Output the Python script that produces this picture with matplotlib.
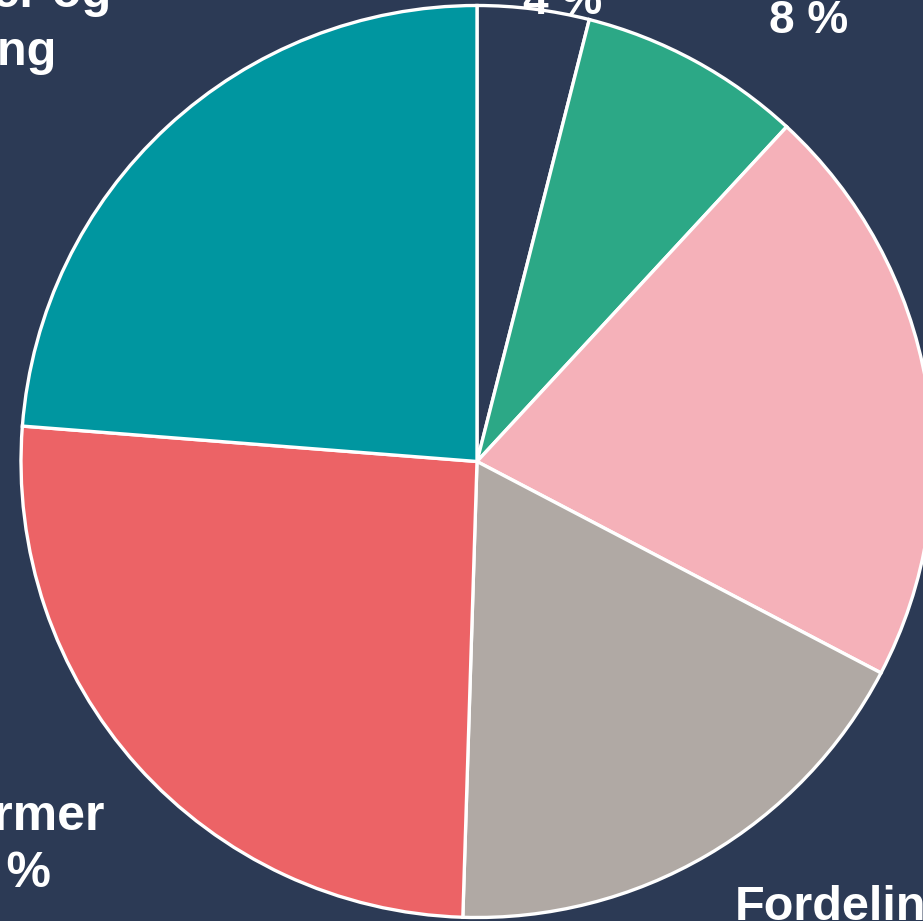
import matplotlib.pyplot as plt

# Andeler per post, med klokka fra toppen
kategorier = ["Annet", "Drift", "Investeringer", "Fordeling",
              "Reformer", "Konsulenter og\nrådgivning"]
andeler = [4, 8, 21, 18, 26, 24]
farger = ["#2c3a55", "#2ca886", "#f5b1b9", "#b0a9a4", "#ec6366", "#0096a0"]

bakgrunn = "#2c3a55"
W, H = 923, 921

fig = plt.figure(figsize=(W / 100, H / 100), dpi=100, facecolor=bakgrunn)
ax = fig.add_axes([0, 0, 1, 1])
ax.set_facecolor(bakgrunn)

ax.pie(andeler, colors=farger, startangle=90, counterclock=False,
       center=(477, H - 461.5), radius=456,
       wedgeprops=dict(edgecolor="white", linewidth=2.4))

ax.set_xlim(0, W)
ax.set_ylim(0, H)
ax.set_aspect("equal")
ax.axis("off")

etikett = dict(color="white", fontsize=35, fontweight="bold",
               family=["Liberation Sans", "DejaVu Sans"],
               ha="center", va="baseline", multialignment="center")


def tekst(i, x, y, forst=False, **kw):
    # y er grunnlinja til siste linje, målt ovenfra
    pst = f"{andeler[i]} %"
    s = f"{pst}\n{kategorier[i]}" if forst else f"{kategorier[i]}\n{pst}"
    ax.text(x, H - y, s, **{**etikett, **kw})


tekst(0, 563, 14, fontsize=33)
tekst(1, 809, 33, fontsize=33)
tekst(2, 1150, 420)
tekst(3, 845, 972)
tekst(4, -6, 887, fontsize=36, linespacing=1.3)
tekst(5, -67, 65, forst=True)

fig.savefig("out.png", dpi=100, facecolor=bakgrunn)
